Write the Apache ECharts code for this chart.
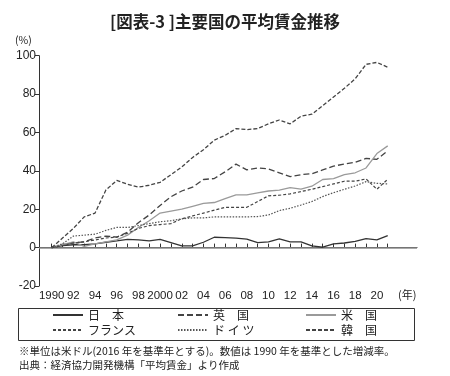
<!DOCTYPE html>
<html>
<head>
<meta charset="utf-8">
<script src="https://cdn.jsdelivr.net/npm/echarts@6/dist/echarts.min.js"></script>
<style>
  html, body { margin: 0; padding: 0; background: #fff; }
  #chart { width: 450px; height: 376px; }
</style>
</head>
<body>
<div id="chart"></div>
<script>
const years = [1990, 1991, 1992, 1993, 1994, 1995, 1996, 1997, 1998, 1999,
  2000, 2001, 2002, 2003, 2004, 2005, 2006, 2007, 2008, 2009,
  2010, 2011, 2012, 2013, 2014, 2015, 2016, 2017, 2018, 2019, 2020, 2021];
const labelYears = [1990, 1992, 1994, 1996, 1998, 2000, 2002, 2004, 2006, 2008, 2010, 2012, 2014, 2016, 2018, 2020];

const japan = [0, 1, 1.5, 1.5, 2, 2.8, 3.5, 4.3, 4, 3.5, 4.3, 2.6, 0.9, 0.9, 2.8, 5.4,
  5.2, 4.9, 4.4, 2.6, 3, 4.5, 3, 3, 0.9, 0.2, 1.9, 2.4, 3.3, 4.7, 4, 6.3];
const uk = [0, 1.5, 2.5, 3, 5, 6, 5.5, 8, 13, 17, 22, 26.5, 29.5, 31.5, 35.5, 36,
  39.5, 43.5, 40.5, 41.5, 41, 39, 37, 38, 38.5, 40.5, 42.5, 43.5, 44.5, 46.5, 46, 50.5];
const us = [0, 1.5, 3, 0.7, 2, 3, 4, 6.5, 10.5, 14, 18, 19, 20, 21.5, 23, 23.5,
  25.5, 27.5, 27.5, 28.5, 29.5, 30, 31.3, 30.5, 32, 35.5, 36, 38, 39, 41.5, 49, 53];
const france = [0, 1, 2.5, 3, 4, 5, 5.5, 7.5, 10, 11.5, 12, 12.5, 15, 16.5, 18, 19.5,
  21, 21, 21, 24, 27, 27.3, 28, 29.2, 30.4, 31.8, 33.2, 34.6, 34.6, 35.8, 30.4, 35.6];
const germany = [0, 2, 6, 6.5, 7, 9, 10.5, 10.5, 11.5, 12.5, 13.5, 14, 15, 15.5, 15.5, 16,
  16, 16, 16, 16.2, 17, 19.3, 20.5, 22.2, 24, 26.6, 28.6, 30.4, 32.1, 34.4, 33.5, 33.2];
const korea = [0, 5, 10, 16, 18, 30, 35, 33, 31.5, 32.5, 34, 38, 42, 47, 51, 56,
  58.5, 62, 61.5, 62, 64.5, 66.5, 64.5, 68.5, 69.5, 74, 78.5, 83, 88, 95.5, 96.5, 94];

const FONT = '"Noto Sans CJK JP", "Noto Sans", sans-serif';
const NUM_FONT = '"Liberation Sans", Arial, sans-serif';

const pairs = (vals) => years.map((y, i) => [y, vals[i]]);

const mkSeries = (name, vals, color, dash, width) => ({
  name,
  type: 'line',
  data: pairs(vals),
  symbol: 'none',
  color,
  lineStyle: { color, width: width || 1.2, type: dash },
  z: 3
});

const series = [
  mkSeries('日　本', japan, '#333', 'solid', 1.3),
  mkSeries('英　国', uk, '#444', [6, 3], 1.3),
  mkSeries('米　国', us, '#9a9a9a', 'solid', 1.3),
  mkSeries('フランス', france, '#444', [3, 2], 1.2),
  mkSeries('ド イ ツ', germany, '#555', [1.5, 1.5], 1.2),
  mkSeries('韓　国', korea, '#444', [4, 2], 1.3)
];

series[0].markLine = {
  silent: true,
  symbol: ['none', 'none'],
  label: { show: false },
  lineStyle: { color: '#8c8c8c', type: 'solid', width: 1.5 },
  data: [{ yAxis: 0 }],
  z: 1
};

const legendBase = {
  orient: 'vertical',
  top: 309,
  itemWidth: 30,
  itemHeight: 12,
  itemGap: 3,
  padding: 0,
  selectedMode: false,
  itemStyle: { opacity: 0, borderWidth: 0 },
  textStyle: { fontFamily: FONT, fontSize: 12, color: '#222' }
};

const chart = echarts.init(document.getElementById('chart'));
chart.setOption({
  animation: false,
  backgroundColor: '#fff',
  title: {
    text: '[図表-3 ]主要国の平均賃金推移',
    left: 'center',
    top: 8,
    textStyle: { fontFamily: FONT, fontSize: 16.5, fontWeight: 'bold', color: '#222' }
  },
  grid: { left: 39, right: 33, top: 55.7, bottom: 90 },
  legend: [
    Object.assign({}, legendBase, { left: 52, data: ['日　本', 'フランス'] }),
    Object.assign({}, legendBase, { left: 177, data: ['英　国', 'ド イ ツ'] }),
    Object.assign({}, legendBase, { left: 305, data: ['米　国', '韓　国'] })
  ],
  xAxis: {
    type: 'value',
    min: 1988.83,
    max: 2023.7,
    splitLine: { show: false },
    axisLine: { lineStyle: { color: '#333', width: 1 } },
    axisTick: { inside: true, length: 4, customValues: years, lineStyle: { color: '#333' } },
    axisLabel: {
      customValues: labelYears,
      margin: 4,
      fontFamily: NUM_FONT,
      fontSize: 11.5,
      color: '#222',
      formatter: (v) => (v === 1990 || v === 2000) ? String(v) : String(v).slice(2)
    }
  },
  yAxis: {
    type: 'value',
    min: -20,
    max: 100,
    interval: 20,
    splitLine: { show: false },
    axisLine: { show: true, lineStyle: { color: '#333', width: 1 } },
    axisTick: { show: true, length: 4, lineStyle: { color: '#333' } },
    axisLabel: { margin: 3, fontFamily: NUM_FONT, fontSize: 12, color: '#222' }
  },
  graphic: [
    { type: 'text', left: 15, top: 35, style: { text: '(%)', fontFamily: FONT, fontSize: 10.5, fill: '#222' } },
    { type: 'text', left: 398, top: 289, style: { text: '(年)', fontFamily: FONT, fontSize: 11, fill: '#222' } },
    { type: 'rect', shape: { x: 18.5, y: 308.5, width: 396, height: 32 }, style: { fill: 'none', stroke: '#333', lineWidth: 1 } },
    { type: 'text', left: 19, top: 346, style: { text: '※単位は米ドル(2016 年を基準年とする)。数値は 1990 年を基準とした増減率。', fontFamily: FONT, fontSize: 10.5, fill: '#222' } },
    { type: 'text', left: 19, top: 360, style: { text: '出典：経済協力開発機構「平均賃金」より作成', fontFamily: FONT, fontSize: 10.5, fill: '#222' } }
  ],
  series
});
</script>
</body>
</html>
